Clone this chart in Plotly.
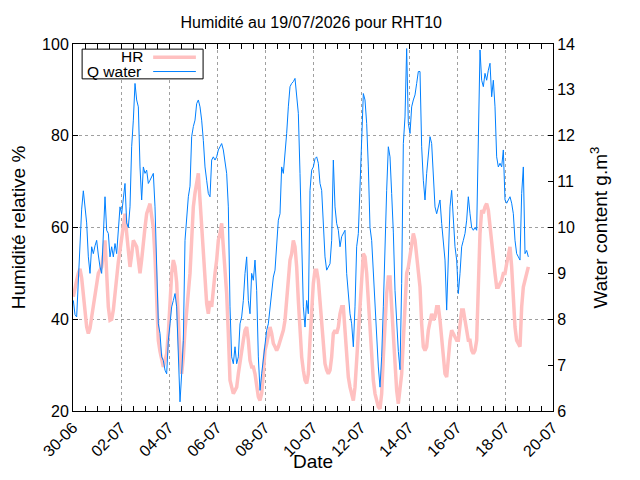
#!/usr/bin/env python3
"""Humidite RHT10 : HR et teneur en eau, 30-06 au 19-07."""

import pandas as pd
import plotly.graph_objects as go

# Relevés lus toutes les 100 minutes à partir du 30/06 00:20
START = "2026-06-30 00:20"
STEP = "100min"

# Humidité relative (%)
hr = [
    44.9, 47, 48.5, 50, 51, 49, 45.6, 42, 38.3, 36.9,
    38, 40.5, 43, 45.6, 48, 50, 50.7, 51.4, 54, 57.2,
    50, 42.7, 39.8, 40, 42, 46, 50, 52.5, 55, 57.5,
    60, 63, 58.7, 54, 51.4, 54, 57.2, 56.5, 55.8, 53,
    50, 53, 55.8, 60, 63, 64.5,
    # 03-07 -> 06-07
    65.2, 62.5, 60, 53.6, 42.7, 35.4, 33, 31, 29.6, 31,
    32.5, 36.9, 45.6, 50, 52.9, 51.5, 48, 39, 31.8, 28.1,
    31.8, 37.6, 41.2, 45.6, 50, 57.2, 64.5, 67.5, 70.3, 71.8,
    66, 60, 53.6, 48.5, 43.4, 41.2, 44, 42.7, 47, 50,
    52.9, 57.2, 58.7, 60.9, 55.8, 51.4, 45.6, 36.9,
    # 06-07 -> 10-07
    26.7, 25.2, 23.8, 24.5, 25.2, 28.1, 31, 33.2, 35.4, 37.6,
    38.3, 35.4, 31, 29.6, 29.6, 28.1, 25.2, 23.1, 22.3, 23.8,
    28.1, 33.2, 34.7, 36.9, 38.3, 36.9, 34.7, 34, 33.2, 34,
    35.4, 36.1, 37.6, 39.8, 44.1, 48.5, 52.9, 54.3, 57.2, 55.8,
    51.4, 44.1, 37.6, 31.8, 28.9, 26.7, 26, 28.1,
    # 10-07 -> 13-07
    35.4, 42.7, 47.8, 50.7, 50.7, 48.5, 44.1, 39, 34, 30.3,
    28.9, 28.1, 28.9, 31.8, 36.9, 37.6, 36.9, 38.3, 41.2, 42.7,
    42.7, 37.6, 31, 27.4, 25.2, 23.8, 22.3, 25.2, 31, 39,
    45.6, 51.4, 54.3, 53.6, 50, 44.1, 37.6, 31.8, 26.7, 23.8,
    22.3, 20.9, 20.5, 23.8, 31.8, 39, 45.6, 49.2,
    # 13-07 -> 16-07
    49.2, 42.7, 36.9, 29.6, 24.5, 21.6, 25.2, 28.1, 35.4, 44.1,
    50, 51.4, 54.3, 57.2, 58.7, 57.2, 54.3, 51.4, 47, 39,
    34, 33.2, 34, 37.6, 39.8, 41.2, 39.8, 40.5, 42.7, 42.7,
    39.8, 36.1, 31.8, 28.1, 27.4, 31.8, 35.4, 37.6, 36.9, 36.1,
    35.4, 35.4, 39, 42, 42, 39.8, 36.9, 35.4,
    # 16-07 -> 19-07
    35.4, 33.2, 32.5, 33.2, 35.4, 50, 58.7, 63.8, 63.1, 64.5,
    65.2, 63.8, 60.1, 55.8, 52.9, 50, 47, 47, 47.8, 48.5,
    50, 50, 52.1, 54.3, 55.8, 51.4, 44.1, 38.3, 35.4, 34.7,
    34, 42.7, 47, 48.5, 50, 51.4,
]

# Teneur en eau (g.m-3)
q_water = [
    8.41, 8.1, 8.05, 8.85, 9.72, 10.4, 10.8, 10.45, 10.1, 9.36,
    9.0, 9.58, 9.43, 9.6, 9.72, 9.4, 9.14, 9.0, 9.72, 10.67,
    9.94, 9.87, 9.36, 9.58, 9.36, 9.65, 9.43, 10.0, 10.45, 10.3,
    10.67, 10.96, 10.1, 10.0, 10.45, 11.76, 12.34, 13.14, 12.78, 12.63,
    11.32, 10.6, 11.32, 11.18, 11.25, 10.96,
    # 03-07 -> 06-07
    11.03, 11.1, 11.18, 10.45, 9.0, 7.9, 7.69, 7.18, 7.1, 6.89,
    6.81, 7.54, 7.9, 8.27, 8.41, 8.56, 8.27, 7.18, 6.2, 6.81,
    7.54, 9.72, 10.3, 10.67, 10.9, 11.98, 12.2, 12.34, 12.7, 12.78,
    12.63, 12.34, 11.9, 11.32, 11.03, 10.74, 10.67, 11.47, 11.54, 11.47,
    11.54, 11.69, 11.76, 11.83, 11.69, 11.47, 11.18, 10.45,
    # 06-07 -> 10-07
    8.27, 7.18, 7.03, 7.4, 7.03, 7.18, 7.9, 8.05, 8.41, 9.0,
    9.36, 8.41, 8.12, 9.0, 8.85, 9.29, 8.63, 7.18, 6.45, 6.81,
    7.1, 7.47, 7.76, 7.9, 8.27, 8.63, 8.92, 9.07, 9.58, 10.16,
    10.3, 11.32, 11.18, 11.54, 12.05, 12.63, 13.07, 13.14, 13.18, 13.25,
    12.92, 12.49, 11.18, 9.36, 8.27, 7.83, 8.41, 8.12,
    # 10-07 -> 13-07
    10.81, 11.25, 11.32, 11.5, 11.54, 11.4, 10.96, 10.81, 10.09, 9.36,
    9.07, 9.14, 9.21, 9.72, 11.47, 10.45, 10.09, 9.94, 9.58, 9.8,
    9.87, 9.94, 9.0, 8.56, 8.12, 7.9, 7.4, 8.27, 9.58, 9.87,
    11.03, 12.27, 12.92, 12.78, 12.27, 11.32, 10.0, 9.72, 9.0, 8.12,
    7.54, 6.96, 6.52, 7.18, 8.27, 9.72, 10.81, 11.76,
    # 13-07 -> 16-07
    11.54, 10.74, 9.9, 8.63, 7.9, 7.3, 6.9, 8.78, 11.83, 12.41,
    13.9, 12.27, 12.05, 12.63, 12.78, 12.89, 13.14, 13.4, 13.4, 11.76,
    11.03, 10.6, 11.18, 11.69, 11.98, 11.83, 11.18, 10.45, 10.3, 10.45,
    10.6, 10.09, 9.72, 9.29, 8.2, 9.29, 10.45, 10.81, 10.23, 9.58,
    9.29, 8.56, 9.0, 9.58, 9.72, 9.87, 10.16, 10.67,
    # 16-07 -> 19-07
    10.3, 10.0, 9.94, 10.0, 9.94, 12.27, 13.87, 13.21, 13.07, 13.36,
    13.21, 13.43, 13.58, 12.85, 13.21, 12.63, 11.54, 11.32, 11.4, 11.32,
    11.69, 10.6, 10.53, 10.6, 10.67, 10.53, 10.3, 9.72, 9.43, 9.36,
    9.29, 10.74, 11.32, 9.43, 9.5, 9.36,
]

times = pd.date_range(START, periods=len(hr), freq=STEP)

HR_COLOR = "#ffc0c0"
Q_COLOR = "#0080ff"
GRID = "#a0a0a0"
FONT = "Liberation Sans"

fig = go.Figure()

fig.add_trace(go.Scatter(
    x=times, y=hr, mode="lines", name="HR",
    line=dict(color=HR_COLOR, width=3.5),
))
fig.add_trace(go.Scatter(
    x=times, y=q_water, mode="lines", name="Q water", yaxis="y2",
    line=dict(color=Q_COLOR, width=1),
))

# legende facon gnuplot : texte aligne a droite, echantillon de ligne apres
fig.add_shape(type="rect", xref="paper", yref="paper",
              x0=0.019, x1=0.271, y0=0.905, y1=0.986,
              line=dict(color="black", width=1), fillcolor="white", layer="above")
fig.add_shape(type="line", xref="paper", yref="paper",
              x0=0.167, x1=0.256, y0=0.964, y1=0.964,
              line=dict(color=HR_COLOR, width=3.5), layer="above")
fig.add_shape(type="line", xref="paper", yref="paper",
              x0=0.167, x1=0.256, y0=0.925, y1=0.925,
              line=dict(color=Q_COLOR, width=1), layer="above")
fig.add_annotation(text="HR", xref="paper", yref="paper", x=0.151, y=0.966,
                   xanchor="right", yanchor="middle", showarrow=False,
                   font=dict(size=15.5))
fig.add_annotation(text="Q water", xref="paper", yref="paper", x=0.146, y=0.926,
                   xanchor="right", yanchor="middle", showarrow=False,
                   font=dict(size=15.5))

# la page a une marge de 8 px : figure reduite d'autant
fig.update_layout(
    width=624, height=464,
    margin=dict(l=65, r=79, t=36, b=61),
    paper_bgcolor="white", plot_bgcolor="white",
    font=dict(family=FONT, size=16, color="black"),
    showlegend=False,
    title=dict(text="Humidité au 19/07/2026 pour RHT10", x=0.486, xanchor="center",
               y=0.970, yanchor="middle", font=dict(size=16)),
    xaxis=dict(
        type="date",
        range=["2026-06-30", "2026-07-20"],
        tick0="2026-06-30", dtick=2 * 86400000,
        tickformat="%d-%m", tickangle=-45,
        ticks="inside", ticklen=5, tickcolor="black",
        minor=dict(dtick=43200000, ticks="inside", ticklen=3, tickcolor="black",
                   showgrid=False),
        showgrid=True, gridcolor=GRID, griddash="3px,3px", gridwidth=1,
        showline=True, linecolor="black", linewidth=1, mirror="allticks",
        title=dict(text="Date", standoff=4),
        zeroline=False, automargin=False,
    ),
    yaxis=dict(
        range=[20, 100], dtick=20,
        ticks="inside", ticklen=5, tickcolor="black",
        showgrid=True, gridcolor=GRID, griddash="3px,3px", gridwidth=1,
        showline=True, linecolor="black", linewidth=1,
        title=dict(text="Humidité relative %", standoff=25),
        zeroline=False, automargin=False,
    ),
    yaxis2=dict(
        range=[6, 14], dtick=1, overlaying="y", side="right",
        ticks="inside", ticklen=5, tickcolor="black",
        showgrid=False, showline=True, linecolor="black", linewidth=1,
        title=dict(text="Water content g.m<sup>3</sup>", standoff=19),
        zeroline=False, automargin=False,
    ),
)

fig.write_html("out.html")
